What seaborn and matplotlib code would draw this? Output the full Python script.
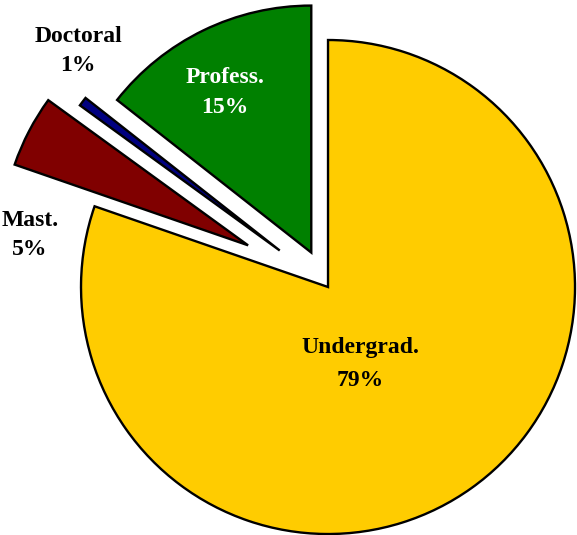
import numpy as np
import matplotlib.pyplot as plt
import seaborn as sns

# data: share of enrolment by degree level (slice angles)
levels = ['Undergrad.', 'Mast.', 'Doctoral', 'Profess.']
shares = [80.3, 4.7, 0.6, 14.4]
pct_labels = ['79%', '5%', '1%', '15%']

# style
colors = ['#FFCC00', '#800000', '#000080', '#008000']
explode = [0.0, 0.365, 0.245, 0.155]
text_colors = ['black', 'black', 'black', 'white']
line_gaps = [1.75, 1.5, 1.5, 1.55]
# label centres in data units (pie radius = 1)
label_pos = [(0.13, -0.31), (-1.206, 0.211), (-1.012, 0.955), (-0.417, 0.789)]

sns.set_style('white')
plt.rcParams['font.family'] = ['Liberation Serif', 'DejaVu Serif']

fig = plt.figure(figsize=(5.77, 5.35), dpi=100)
ax = fig.add_axes([0, 0, 1, 1])

wedges, _ = ax.pie(shares, colors=colors, explode=explode, startangle=90,
                   counterclock=False,
                   wedgeprops=dict(edgecolor='black', linewidth=1.7))

for name, pct, (x, y), tc, gap in zip(levels, pct_labels, label_pos,
                                      text_colors, line_gaps):
    ax.text(x, y, f'{name}\n{pct}', ha='center', va='center', color=tc,
            fontsize=17, fontweight='bold', linespacing=gap)

ax.set_xlim(-1.328, 1.008)
ax.set_ylim(-1.004, 1.162)
ax.set_aspect('equal')
ax.axis('off')

fig.savefig('out.png', dpi=100)
plt.close(fig)
